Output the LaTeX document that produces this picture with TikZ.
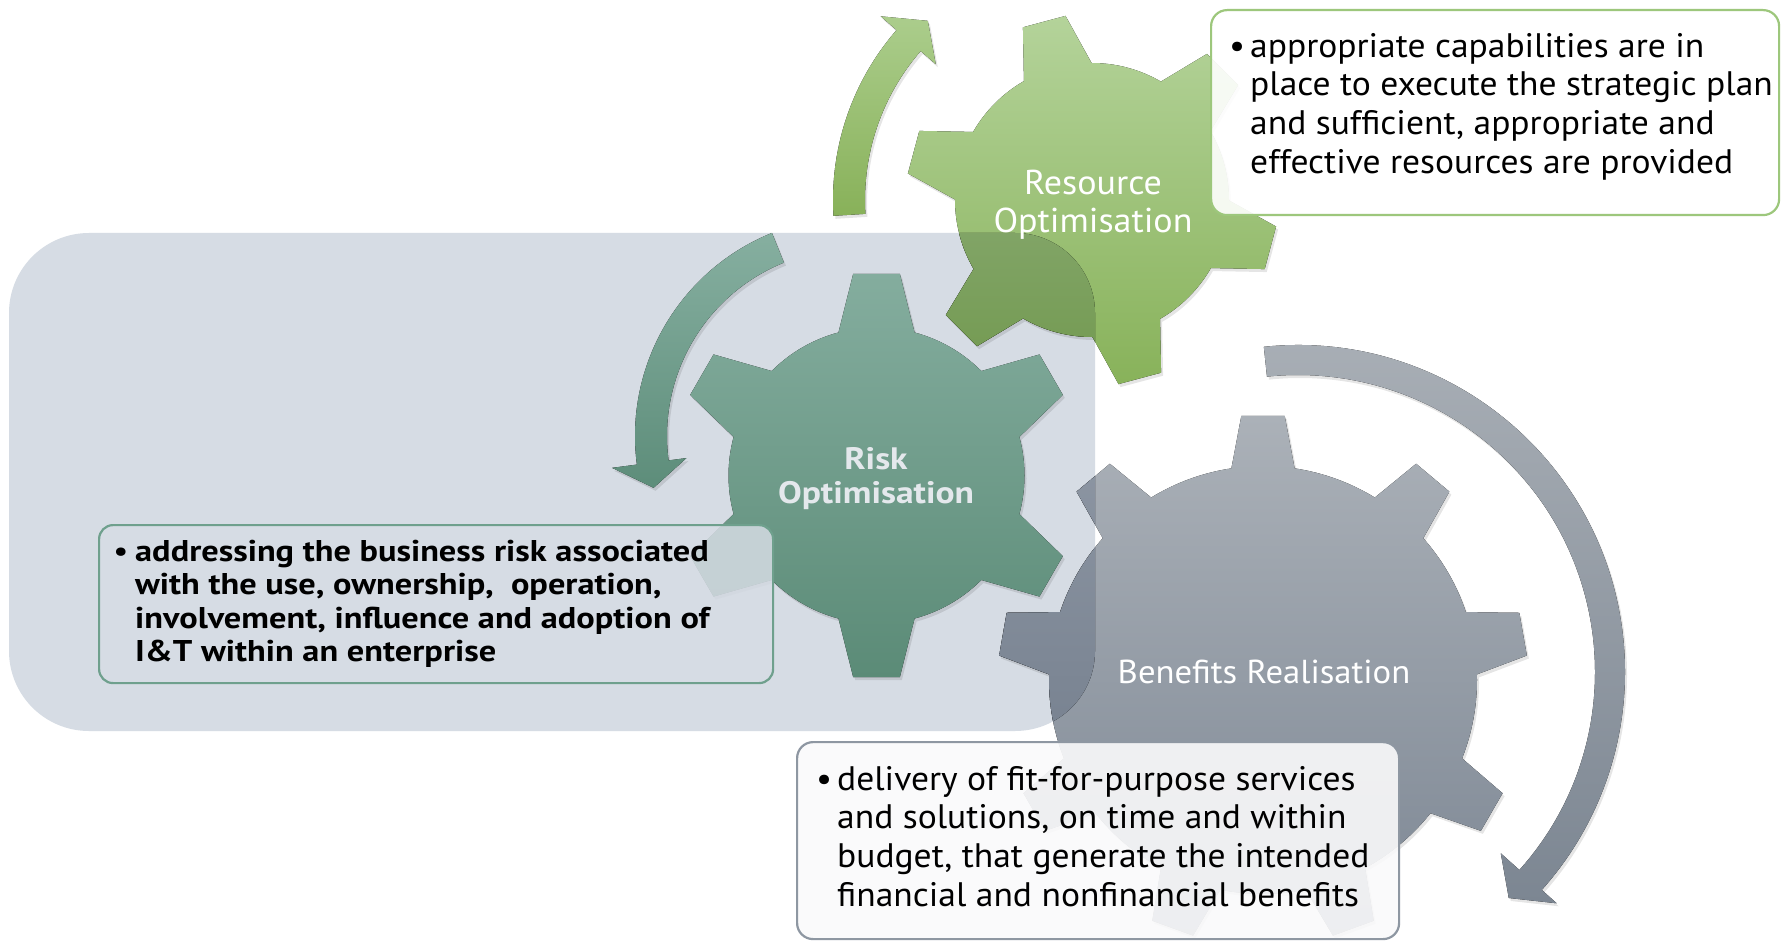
\documentclass[tikz,border=0pt]{standalone}
\usepackage{fontspec}
\setmainfont{PT Sans}
\newfontfamily\descfont[FakeStretch=1.045]{PT Sans}
\newfontfamily\widebold[FakeStretch=1.145]{PT Sans}
\usetikzlibrary{calc}
\definecolor{bgc}{HTML}{D6DCE4}
\definecolor{resTop}{HTML}{B4D39A}
\definecolor{resBot}{HTML}{88B25A}
\definecolor{resDTop}{HTML}{96B487}
\definecolor{resDBot}{HTML}{72994F}
\definecolor{riskTop}{HTML}{84AD9E}
\definecolor{riskBot}{HTML}{5B8B77}
\definecolor{benTop}{HTML}{ABB1B8}
\definecolor{benBot}{HTML}{7D8794}
\definecolor{benDTop}{HTML}{8F98A5}
\definecolor{benDBot}{HTML}{6A7584}
\definecolor{gaTop}{HTML}{ABCD8C}
\definecolor{gaBot}{HTML}{88B159}
\definecolor{taTop}{HTML}{86AFA0}
\definecolor{taBot}{HTML}{5D8D7A}
\definecolor{yaTop}{HTML}{A9AFB6}
\definecolor{yaBot}{HTML}{7C8692}
\definecolor{resBorder}{HTML}{9DC77C}
\definecolor{riskBorder}{HTML}{6FA08D}
\definecolor{benBorder}{HTML}{8E97A2}
\definecolor{riskLabel}{HTML}{E4E8EC}
% #1 centre, #2 tip radius, #3 body radius, #4 step, #5 last index, #6 phase, #7 tip half-angle, #8 base half-angle
\newcommand{\gearpath}[8]{%
  ($(#1)+({#6-#8}:#3)$)
  \foreach \k [evaluate=\k as \a using #6+\k*#4] in {0,...,#5}{
    -- ($(#1)+({\a-#7}:#2)$) -- ($(#1)+({\a+#7}:#2)$) -- ($(#1)+({\a+#8}:#3)$)
    arc[start angle={\a+#8}, end angle={\a+#4-#8}, radius=#3]
  } -- cycle}
% #1 centre, #2 inner r, #3 outer r, #4 tail angle, #5 head base angle, #6 inner barb r, #7 outer barb r, #8 tip angle, #9 tip r
\newcommand{\arcarrow}[9]{%
  ($(#1)+(#4:#3)$) arc[start angle=#4, end angle=#5, radius=#3]
  -- ($(#1)+(#5:#7)$) -- ($(#1)+(#8:#9)$) -- ($(#1)+(#5:#6)$) -- ($(#1)+(#5:#2)$)
  arc[start angle=#5, end angle=#4, radius=#2] -- cycle}
\begin{document}
\begin{tikzpicture}[x=1pt,y=-1pt,
  resgear/.style={top color=resTop, bottom color=resBot},
  resgeard/.style={top color=resDTop, bottom color=resDBot},
  riskgear/.style={top color=riskTop, bottom color=riskBot},
  bengear/.style={top color=benTop, bottom color=benBot},
  bengeard/.style={top color=benDTop, bottom color=benDBot},
  greenarrow/.style={top color=gaTop, bottom color=gaBot},
  tealarrow/.style={top color=taTop, bottom color=taBot},
  grayarrow/.style={top color=yaTop, bottom color=yaBot},
  shadowed/.style={fill=black, fill opacity=0.10},
  descbox/.style={rounded corners=16pt, line width=2.2pt, inner sep=0pt, anchor=north west},
  desctext/.style={anchor=north west, inner sep=0pt, align=left, text=black},
  gearlabel/.style={align=center, inner sep=0pt}
]
\useasboundingbox (0,0) rectangle (1782,941);
\fill[white] (0,0) rectangle (1782,941);
\coordinate (cRes) at (1092,200);
\coordinate (cResS) at (1094,203);
\coordinate (cRisk) at (876.5,475.5);
\coordinate (cRiskS) at (878.5,478.5);
\coordinate (cBen) at (1263,680);
\coordinate (cBenS) at (1265,683);
\coordinate (cTeal) at (854,436);
\coordinate (cTealS) at (856,439);
\coordinate (cGray) at (1298,672);
\coordinate (cGrayS) at (1300,675);
\coordinate (cResA) at (1092,200);
\coordinate (cResAS) at (1094,203);

% background panel
\fill[bgc, rounded corners=80pt] (9,233) rectangle (1095,731);

% resource and benefits gears
\fill[shadowed] \gearpath{cResS}{186}{137}{60}{5}{15}{6.8}{14.8};
\fill[resgear] \gearpath{cRes}{186}{137}{60}{5}{15}{6.8}{14.8};
\fill[shadowed] \gearpath{cBenS}{265}{214}{40}{8}{270}{4.7}{8.5};
\fill[bengear] \gearpath{cBen}{265}{214}{40}{8}{270}{4.7}{8.5};
\begin{scope}
  \clip[rounded corners=80pt] (9,233) rectangle (1095,731);
  \fill[resgeard] \gearpath{cRes}{186}{137}{60}{5}{15}{6.8}{14.8};
  \fill[bengeard] \gearpath{cBen}{265}{214}{40}{8}{270}{4.7}{8.5};
\end{scope}

% risk gear
\fill[shadowed] \gearpath{cRiskS}{203}{148}{60}{5}{30}{6.6}{14.9};
\fill[riskgear] \gearpath{cRisk}{203}{148}{60}{5}{30}{6.6}{14.9};

% circular arrows
\fill[shadowed] \arcarrow{cResAS}{227}{259}{176.5}{221}{207}{280}{227.5}{243};
\fill[greenarrow] \arcarrow{cResA}{227}{259}{176.5}{221}{207}{280}{227.5}{243};
\fill[shadowed] \arcarrow{cTealS}{187}{219}{248}{172.5}{169}{244}{165.5}{207};
\fill[tealarrow] \arcarrow{cTeal}{187}{219}{248}{172.5}{169}{244}{165.5}{207};
\fill[shadowed] \arcarrow{cGrayS}{297}{327}{-96}{41.8}{272}{347}{47}{309};
\fill[grayarrow] \arcarrow{cGray}{297}{327}{-96}{41.8}{272}{347}{47}{309};

% gear labels
\node[gearlabel, text=white, font=\descfont\fontsize{34.5}{38}\selectfont] (resLabel) at (1093,205) {Resource\\Optimisation};
\node[gearlabel, text=riskLabel, font=\widebold\bfseries\fontsize{31}{34}\selectfont] (riskLabel) at (876,478.5) {Risk\\Optimisation};
\node[gearlabel, text=white, font=\descfont\fontsize{33.2}{38}\selectfont] (benLabel) at (1264,672) {Benefits Realisation};

% description boxes
\node[descbox, draw=resBorder, fill=white, fill opacity=0.9, minimum width=568pt, minimum height=205pt] (resBox) at (1210,9) {};
\node[descbox, draw=riskBorder, fill=bgc, fill opacity=0.85, minimum width=674pt, minimum height=158pt, rounded corners=14pt] (riskBox) at (98,524) {};
\node[descbox, draw=benBorder, fill=white!94!benTop, fill opacity=0.9, minimum width=602pt, minimum height=197pt] (benBox) at (796,741) {};

\node[desctext, font=\descfont\fontsize{34}{38.6}\selectfont] (resText) at (1229,33)
  {\makebox[21pt][l]{•}appropriate capabilities are in\\
   \hspace*{21pt}place to execute the strategic plan\\
   \hspace*{21pt}and sufficient, appropriate and\\
   \hspace*{21pt}effective resources are provided};
\node[desctext, font=\widebold\bfseries\fontsize{30}{33.4}\selectfont] (riskText) at (113,540)
  {\makebox[22pt][l]{\mdseries•}addressing the business risk associated\\
   \hspace*{22pt}with the use, ownership,\ \ operation,\\
   \hspace*{22pt}involvement, influence and adoption of\\
   \hspace*{22pt}I\&T within an enterprise};
\node[desctext, font=\descfont\fontsize{34}{38.6}\selectfont] (benText) at (816,766)
  {\makebox[21pt][l]{•}delivery of fit-for-purpose services\\
   \hspace*{21pt}and solutions, on time and within\\
   \hspace*{21pt}budget, that generate the intended\\
   \hspace*{21pt}financial and nonfinancial benefits};
\end{tikzpicture}
\end{document}
